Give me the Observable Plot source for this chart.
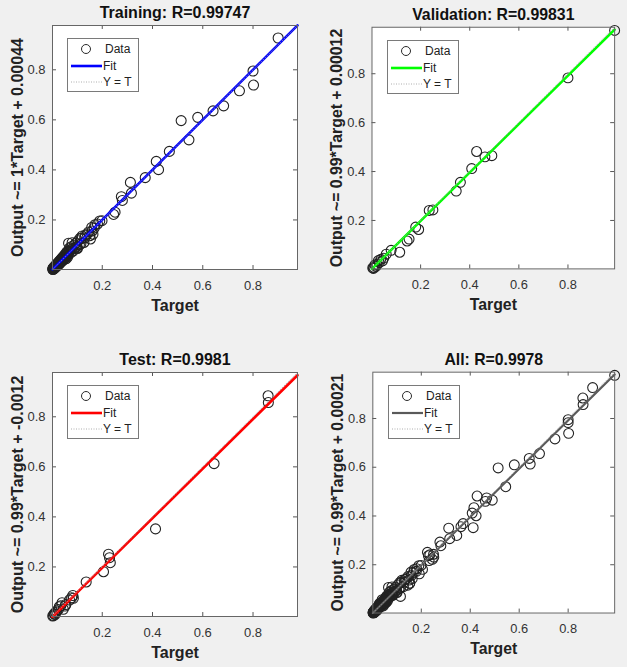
<!DOCTYPE html>
<html>
<head>
<meta charset="utf-8">
<script src="https://cdn.jsdelivr.net/npm/d3@7"></script>
<script src="https://cdn.jsdelivr.net/npm/@observablehq/plot@0.6"></script>
<style>
  html, body { margin: 0; padding: 0; background: #f0f0f0; }
  #chart { position: relative; width: 627px; height: 667px; overflow: hidden; background: #f0f0f0;
           font-family: "Liberation Sans", Arial, sans-serif; }
  .panel { position: absolute; }
  .legend { position: absolute; }
</style>
</head>
<body>
<div id="chart"></div>
<script>
// ---------- data: [target, output] ----------
const trainingData = [
  [0.900,0.927],[0.800,0.795],[0.802,0.739],[0.746,0.716],[0.683,0.656],[0.641,0.636],
  [0.580,0.610],[0.514,0.597],[0.545,0.520],[0.467,0.474],[0.415,0.434],[0.424,0.401],
  [0.371,0.369],[0.312,0.350],[0.316,0.307],[0.276,0.293],[0.280,0.278],[0.245,0.222],
  [0.251,0.231],[0.199,0.197],[0.190,0.196],[0.181,0.184],[0.171,0.181],[0.168,0.168],
  [0.160,0.156],[0.163,0.143],[0.153,0.124],[0.140,0.144],[0.132,0.139],[0.127,0.110],
  [0.120,0.136],[0.117,0.126],[0.109,0.101],[0.104,0.117],[0.099,0.095],[0.093,0.090],
  [0.088,0.099],[0.080,0.109],[0.084,0.076],[0.076,0.093],[0.066,0.107],[0.071,0.080],
  [0.112,0.127],[0.130,0.128],[0.146,0.152],[0.150,0.137],[0.158,0.170],[0.095,0.107],
  [0.100,0.088],[0.115,0.105],[0.101,0.086],
  [0.068,0.071],[0.063,0.074],[0.061,0.060],[0.058,0.066],[0.055,0.052],[0.053,0.063],
  [0.050,0.046],[0.048,0.057],[0.046,0.041],[0.044,0.052],[0.042,0.038],[0.040,0.047],
  [0.038,0.034],[0.036,0.043],[0.034,0.030],[0.032,0.038],[0.030,0.027],[0.028,0.034],
  [0.027,0.023],[0.025,0.029],[0.023,0.020],[0.021,0.026],[0.020,0.016],[0.018,0.022],
  [0.016,0.013],[0.015,0.019],[0.013,0.010],[0.012,0.015],[0.010,0.008],[0.009,0.012],
  [0.008,0.005],[0.006,0.009],[0.005,0.004],[0.004,0.006],[0.003,0.003],
  [0.056,0.045],[0.052,0.058],[0.047,0.050],[0.043,0.045],[0.039,0.040],[0.035,0.036],
  [0.031,0.033],[0.029,0.024],[0.026,0.027],[0.022,0.023],[0.019,0.018],[0.017,0.016],
  [0.014,0.014],[0.011,0.012],[0.009,0.007],[0.007,0.008],[0.005,0.006],[0.004,0.002],
  [0.062,0.052],[0.059,0.072],[0.065,0.062],[0.074,0.069],[0.070,0.088],[0.079,0.083]
];
const validationData = [
  [0.990,0.977],[0.800,0.783],[0.428,0.482],[0.462,0.460],[0.490,0.465],[0.408,0.412],
  [0.362,0.356],[0.345,0.320],[0.235,0.241],[0.250,0.243],[0.180,0.173],[0.192,0.163],
  [0.145,0.116],[0.153,0.124],[0.115,0.070],[0.080,0.078],[0.060,0.062],[0.050,0.046],
  [0.045,0.035],[0.038,0.041],[0.032,0.028],[0.028,0.036],[0.022,0.020],[0.018,0.012],
  [0.014,0.018],[0.010,0.008],[0.008,0.004],[0.005,0.006]
];
const testData = [
  [0.860,0.884],[0.861,0.857],[0.645,0.613],[0.412,0.352],[0.225,0.251],[0.229,0.237],
  [0.232,0.217],[0.205,0.181],[0.136,0.140],[0.083,0.086],[0.078,0.077],[0.085,0.075],
  [0.070,0.068],[0.055,0.050],[0.052,0.044],[0.040,0.057],[0.045,0.031],[0.035,0.045],
  [0.029,0.041],[0.025,0.030],[0.019,0.024],[0.015,0.018],[0.012,0.010],[0.009,0.013],
  [0.006,0.006],[0.003,0.004]
];
const allData = [...trainingData, ...validationData, ...testData];

const panelTitles = ["Training: R=0.99747", "Validation: R=0.99831", "Test: R=0.9981", "All: R=0.9978"];
const yLabels = [
  "Output ~= 1*Target + 0.00044",
  "Output ~= 0.99*Target + 0.00012",
  "Output ~= 0.99*Target + -0.0012",
  "Output ~= 0.99*Target + 0.00021"
];
const xLabel = "Target";
const fitSlopes = [1, 0.99, 0.99, 0.99];
const fitIntercepts = [0.00044, 0.00012, -0.0012, 0.00021];
const axisMin = [0.002, 0.002, 0.002, 0.002];
const axisMax = [0.977, 0.99, 0.977, 0.99];
const tickValues = [0.2, 0.4, 0.6, 0.8];
const legendLabels = ["Data", "Fit", "Y = T"];

// ---------- styling / layout ----------
const fitColors = ["#0000ff", "#00ff00", "#ff0000", "#5a5a5a"];
const datasets = [trainingData, validationData, testData, allData];
const frames = [[52, 25], [372, 27], [52, 372], [373, 372]];
const M = {left: 52, right: 13, top: 25, bottom: 61};
const FW = 245, FH = 244;
const FONT = '"Liberation Sans", Arial, sans-serif';

const chart = document.getElementById("chart");

datasets.forEach((data, i) => {
  const lo = axisMin[i], hi = axisMax[i];
  const span = hi - lo;
  const tk = span * 4 / FW;                 // inward tick length
  const pts = data.map(([t, o]) => ({t, o}));
  const ends = [lo, hi];
  const fit = ends.map(t => ({t, o: fitSlopes[i] * t + fitIntercepts[i]}));
  const ident = ends.map(t => ({t, o: t}));

  const svg = Plot.plot({
    width: M.left + FW + M.right,
    height: M.top + FH + M.bottom,
    marginLeft: M.left, marginRight: M.right, marginTop: M.top, marginBottom: M.bottom,
    style: {background: "transparent", fontFamily: FONT, overflow: "visible"},
    x: {domain: [lo, hi], label: null},
    y: {domain: [lo, hi], label: null},
    marks: [
      Plot.frame({fill: "white", stroke: null}),
      Plot.axisX({ticks: tickValues, tickSize: 0, tickPadding: 11, fontSize: 13, fill: "#333",
                  tickFormat: d => String(d), label: null}),
      Plot.axisY({ticks: tickValues, tickSize: 0, tickPadding: 7, fontSize: 13, fill: "#333",
                  tickFormat: d => String(d), label: null}),
      // inward ticks on all four sides
      Plot.ruleX(tickValues, {x: d => d, y1: lo, y2: lo + tk, stroke: "#555", strokeWidth: 1}),
      Plot.ruleX(tickValues, {x: d => d, y1: hi - tk, y2: hi, stroke: "#555", strokeWidth: 1}),
      Plot.ruleY(tickValues, {y: d => d, x1: lo, x2: lo + tk, stroke: "#555", strokeWidth: 1}),
      Plot.ruleY(tickValues, {y: d => d, x1: hi - tk, x2: hi, stroke: "#555", strokeWidth: 1}),
      Plot.dot(pts, {x: "t", y: "o", r: 5, stroke: "#222", strokeWidth: 1.1, fill: "none"}),
      Plot.line(fit, {x: "t", y: "o", stroke: fitColors[i], strokeWidth: i === 3 ? 2.2 : 2.6}),
      Plot.line(ident, {x: "t", y: "o", stroke: "#9a9a9a", strokeWidth: 0.8, strokeDasharray: "1,2"}),
      Plot.frame({stroke: "#666", strokeWidth: 1}),
      Plot.text([panelTitles[i]], {frameAnchor: "top", dy: -12.5, lineAnchor: "middle",
                 textAnchor: "middle", fontSize: 16, fontWeight: "bold", fill: "#111"}),
      Plot.text([xLabel], {frameAnchor: "bottom", dy: 36, lineAnchor: "middle",
                 textAnchor: "middle", fontSize: 16, fontWeight: "bold", fill: "#222"}),
      Plot.text([yLabels[i]], {frameAnchor: "left", dx: -35, rotate: -90, lineAnchor: "middle",
                 textAnchor: "middle", fontSize: 16, fontWeight: "bold", fill: "#222"})
    ]
  });

  const wrap = document.createElement("div");
  wrap.className = "panel";
  wrap.style.left = (frames[i][0] - M.left) + "px";
  wrap.style.top = (frames[i][1] - M.top) + "px";
  wrap.appendChild(svg);

  // legend box
  const lg = d3.create("svg").attr("class", "legend").attr("width", 72).attr("height", 54)
    .style("left", (M.left + 15) + "px").style("top", (M.top + 13) + "px")
    .style("font-family", FONT);
  lg.append("rect").attr("x", 0.5).attr("y", 0.5).attr("width", 71).attr("height", 53)
    .attr("fill", "white").attr("stroke", "#7a7a7a");
  lg.append("circle").attr("cx", 19).attr("cy", 11).attr("r", 4.5)
    .attr("fill", "none").attr("stroke", "#2a2a2a");
  lg.append("line").attr("x1", 4).attr("x2", 35).attr("y1", 28).attr("y2", 28)
    .attr("stroke", fitColors[i]).attr("stroke-width", i === 3 ? 2.2 : 2.6);
  lg.append("line").attr("x1", 4).attr("x2", 35).attr("y1", 44).attr("y2", 44)
    .attr("stroke", "#9a9a9a").attr("stroke-width", 0.8).attr("stroke-dasharray", "1,1.5");
  const rowsY = [11, 28, 44];
  const rowsX = [38, 36, 36];
  legendLabels.forEach((s, j) => {
    lg.append("text").attr("x", rowsX[j]).attr("y", rowsY[j]).attr("dy", "0.35em")
      .attr("font-size", 12).attr("fill", "#222").text(s);
  });
  wrap.appendChild(lg.node());
  chart.appendChild(wrap);
});
</script>
</body>
</html>
